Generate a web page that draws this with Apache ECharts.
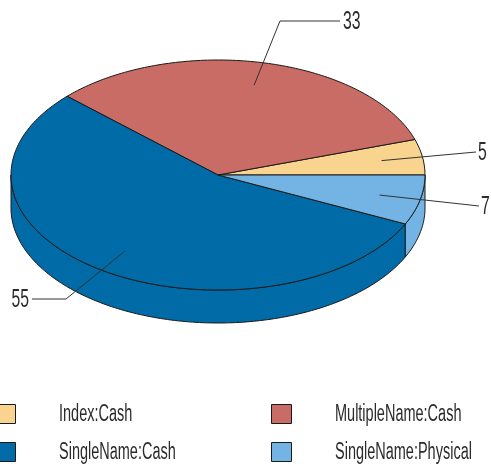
<!DOCTYPE html>
<html>
<head>
<meta charset="utf-8">
<style>
html, body { margin: 0; padding: 0; background: #fff; }
#chart { width: 491px; height: 464px; }
</style>
<script src="https://cdn.jsdelivr.net/npm/echarts@6/dist/echarts.min.js"></script>
</head>
<body>
<div id="chart"></div>
<script>
const categories = ["Index:Cash", "MultipleName:Cash", "SingleName:Cash", "SingleName:Physical"]
const values = [5, 33, 55, 7]

const colors = ["#f9d48f", "#c96c65", "#006ba6", "#73b4e4"]
const lineColor = "#1a1a1a"
const legendFont = '23px "Liberation Sans", sans-serif'
const valueFont = '25px "Liberation Sans", sans-serif'
const textScale = 0.63

// pie geometry
const cx = 218, cy = 175, rx = 207, ry = 115, depth = 33

// leader line bends and label ends, per category
const leaders = [
	{ via: [[476, 152]], align: "left", dx: 2 },
	{ via: [[280, 21], [340, 21]], align: "left", dx: 3 },
	{ via: [[66, 299], [32, 299]], align: "right", dx: -3 },
	{ via: [[479, 206]], align: "left", dx: 2 }
]
// legend slots, per category
const swatchX = [0, 272, 0, 272]
const textX = [59, 335, 59, 335]
const rowY = [414, 414, 452, 452]

const total = values.reduce((a, b) => a + b, 0)

const pointAt = (deg, r = 1, dy = 0) => {
	let a = deg * Math.PI / 180
	return [cx + rx * r * Math.cos(a), cy - ry * r * Math.sin(a) + dy]
}
const arc = (from, to, dy = 0) => {
	let pts = []
	let n = Math.max(2, Math.ceil(Math.abs(to - from)))
	for (let i = 0; i <= n; i++) {
		pts.push(pointAt(from + (to - from) * i / n, 1, dy))
	}
	return pts
}
const narrowText = (text, x, y, align, font) => ({
	type: "text",
	x: x,
	y: y + 1,
	scaleX: textScale,
	style: { text: text, font: font, fill: "#2b2b2b", align: align, verticalAlign: "middle" }
})

const renderSlice = (params, api) => {
	let i = params.seriesIndex
	let start = api.value(0) / total * 360
	let end = start + api.value(1) / total * 360
	let fill = colors[i]
	let style = { fill: fill, stroke: lineColor, lineWidth: 1 }
	let children = []

	// wall, only the part of the rim facing front
	let wallFrom = Math.max(start, 180)
	let wallTo = Math.min(end, 360)
	if (wallTo > wallFrom) {
		children.push({
			type: "polygon",
			shape: { points: arc(wallFrom, wallTo).concat(arc(wallTo, wallFrom, depth)) },
			style: style
		})
	}
	// top face
	children.push({
		type: "polygon",
		shape: { points: [[cx, cy]].concat(arc(start, end)) },
		style: style
	})
	// leader line and value label
	let leader = leaders[i]
	let pts = [pointAt((start + end) / 2, 0.8)].concat(leader.via)
	children.push({
		type: "polyline",
		shape: { points: pts },
		style: { fill: null, stroke: "#333", lineWidth: 1 }
	})
	let last = pts[pts.length - 1]
	children.push(narrowText(String(api.value(1)), last[0] + leader.dx, last[1], leader.align, valueFont))

	// legend entry
	children.push({
		type: "rect",
		shape: { x: swatchX[i] - 0.5, y: rowY[i] - 9.5, width: i % 2 ? 20 : 16, height: 19 },
		style: style
	})
	children.push(narrowText(categories[i], textX[i], rowY[i], "left", legendFont))

	return { type: "group", children: children }
}

let chart = echarts.init(document.getElementById("chart"))
let option = {
	animation: false,
	backgroundColor: "#fff",
	series: categories.map((name, i) => ({
		name: name,
		type: "custom",
		coordinateSystem: "none",
		silent: true,
		renderItem: renderSlice,
		data: [[values.slice(0, i).reduce((a, b) => a + b, 0), values[i]]]
	}))
}
chart.setOption(option)
</script>
</body>
</html>
